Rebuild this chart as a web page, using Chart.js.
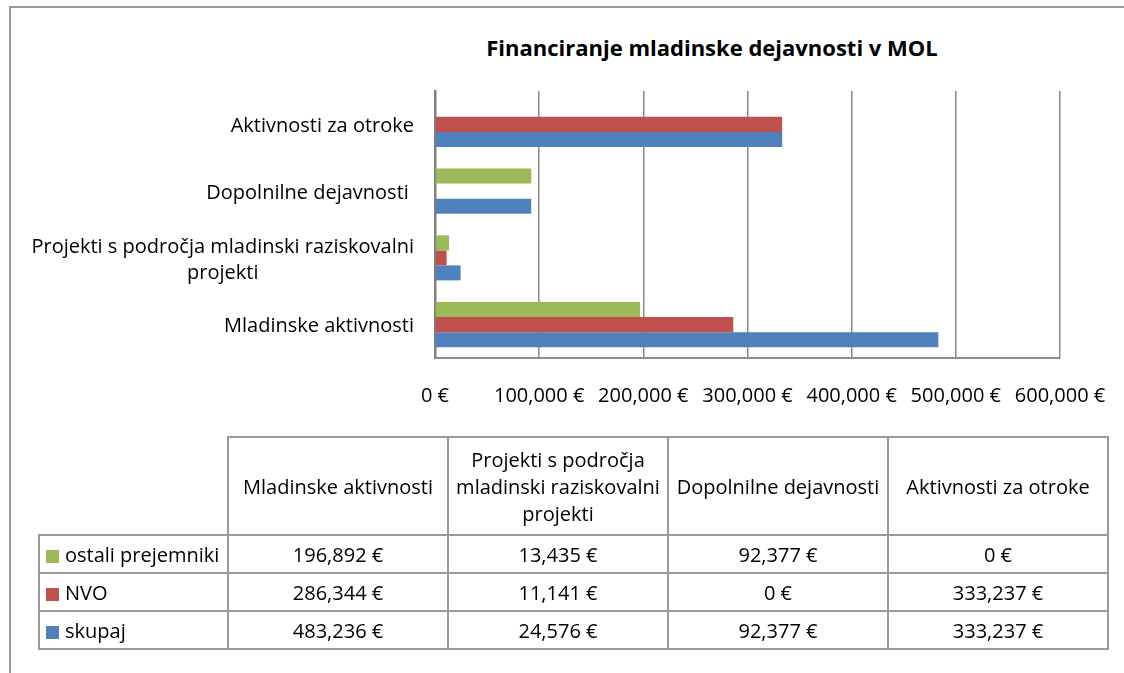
<!DOCTYPE html>
<html>
<head>
<meta charset="utf-8">
<script src="https://cdn.jsdelivr.net/npm/chart.js@4.4.1/dist/chart.umd.min.js"></script>
<style>
    body { margin: 0; background: #fff; font-family: "Open Sans", sans-serif; }
    #wrap { position: relative; width: 1124px; height: 673px; overflow: hidden; }
    #frame { position: absolute; left: 9px; top: 6px; width: 1200px; height: 700px; border-top: 2px solid #9a9a9a; border-left: 2px solid #9a9a9a; }
    #title { position: absolute; left: 312px; width: 800px; top: 32px; text-align: center; font-weight: bold; font-size: 22px; line-height: 30px; color: #000; }
    #chartBox { position: absolute; left: 0; top: 0; width: 1124px; height: 449px; }
    #tbl { position: absolute; left: 38px; top: 436px; border-collapse: collapse; font-size: 20px; color: #000; }
    #tbl td { border: 2px solid #999; text-align: center; padding: 0 3px; }
    #tbl tr.head td { height: 96px; line-height: 27px; }
    #tbl tr.row td { height: 36px; }
    #tbl td.key { text-align: left; padding-left: 6px; white-space: nowrap; }
    #tbl td.corner { border-top: hidden; border-left: hidden; }
    .sw { display: inline-block; width: 13px; height: 13px; margin-right: 6px; vertical-align: -1px; }
</style>
</head>
<body>
<div id="wrap">
    <div id="frame"></div>
    <div id="title">Financiranje mladinske dejavnosti v MOL</div>
    <div id="chartBox"><canvas id="myChart"></canvas></div>
    <table id="tbl"></table>
</div>
<script>
// categories as in the data table (bottom to top on the chart)
var categories = ["Mladinske aktivnosti", "Projekti s področja mladinski raziskovalni projekti", "Dopolnilne dejavnosti ", "Aktivnosti za otroke"];
var seriesNames = ["ostali prejemniki", "NVO", "skupaj"];
var seriesColors = ["#9BBB59", "#C0504D", "#4F81BD"];
var ostali = [196892, 13435, 92377, 0];
var nvo = [286344, 11141, 0, 333237];
var skupaj = [483236, 24576, 92377, 333237];
var xTicks = [0, 100000, 200000, 300000, 400000, 500000, 600000];

var seriesValues = [ostali, nvo, skupaj];
var colW = [189, 220, 220, 220, 220];
var fontSize = 20;

function euro(v) {
    return v.toLocaleString("en-US") + " €";
}

// category labels on the left, wrapped like Excel does (lines centred on each other)
var catLabels = {
    id: "catLabels",
    afterDraw: function (chart) {
        var ctx = chart.ctx, ys = chart.scales.y, right = chart.chartArea.left - 21;
        ctx.save();
        ctx.font = fontSize + "px 'Open Sans'";
        ctx.fillStyle = "#000";
        ctx.textAlign = "center";
        ctx.textBaseline = "middle";
        categories.forEach(function (c, i) {
            var words = c.split(" "), lines = [], cur = "";
            words.forEach(function (w) {
                var t = cur ? cur + " " + w : w;
                if (cur && ctx.measureText(t).width > 400) { lines.push(cur); cur = w; } else cur = t;
            });
            lines.push(cur);
            var mw = Math.max.apply(null, lines.map(function (l) { return ctx.measureText(l).width; }));
            var cx = right - mw / 2, cy = ys.getPixelForValue(i) + 2;
            lines.forEach(function (l, k) {
                ctx.fillText(l, cx, cy + (k - (lines.length - 1) / 2) * 26);
            });
        });
        ctx.restore();
    }
};

new Chart(document.getElementById("myChart"), {
    type: "bar",
    data: {
        labels: categories,
        datasets: seriesNames.map(function (n, i) {
            return {
                label: n,
                data: seriesValues[i],
                backgroundColor: seriesColors[i],
                borderWidth: 0,
                categoryPercentage: 0.675,
                barPercentage: 1
            };
        })
    },
    options: {
        indexAxis: "y",
        responsive: true,
        maintainAspectRatio: false,
        animation: false,
        layout: { padding: { left: 435, right: 64, top: 91, bottom: 15 } },
        plugins: { legend: { display: false }, tooltip: { enabled: false }, title: { display: false } },
        scales: {
            x: {
                min: xTicks[0],
                max: xTicks[xTicks.length - 1],
                afterBuildTicks: function (s) { s.ticks = xTicks.map(function (v) { return { value: v }; }); },
                // keep the plot edge fixed; the last label may overhang
                afterFit: function (s) { s.paddingLeft = 0; s.paddingRight = 0; },
                ticks: { callback: function (v) { return euro(v); }, color: "#000", font: { family: "Open Sans", size: fontSize }, padding: 26, maxRotation: 0 },
                grid: { color: "#8c8c8c", lineWidth: 1.5, drawTicks: false },
                border: { color: "#8c8c8c", width: 2 }
            },
            y: {
                reverse: true,
                ticks: { display: false },
                grid: { display: false, drawTicks: false },
                border: { color: "#808080", width: 2.5 }
            }
        }
    },
    plugins: [catLabels]
});

// data table under the chart
var tbl = document.getElementById("tbl");
var html = "<colgroup>" + colW.map(function (w) { return '<col style="width:' + w + 'px">'; }).join("") + "</colgroup>";
html += '<tr class="head"><td class="corner"></td>' + categories.map(function (c) { return "<td>" + c + "</td>"; }).join("") + "</tr>";
seriesNames.forEach(function (n, i) {
    html += '<tr class="row"><td class="key"><span class="sw" style="background:' + seriesColors[i] + '"></span>' + n + "</td>";
    html += seriesValues[i].map(function (v) { return "<td>" + euro(v) + "</td>"; }).join("") + "</tr>";
});
tbl.innerHTML = html;
tbl.style.tableLayout = "fixed";
tbl.style.width = colW.reduce(function (a, b) { return a + b; }, 0) + "px";
</script>
</body>
</html>
